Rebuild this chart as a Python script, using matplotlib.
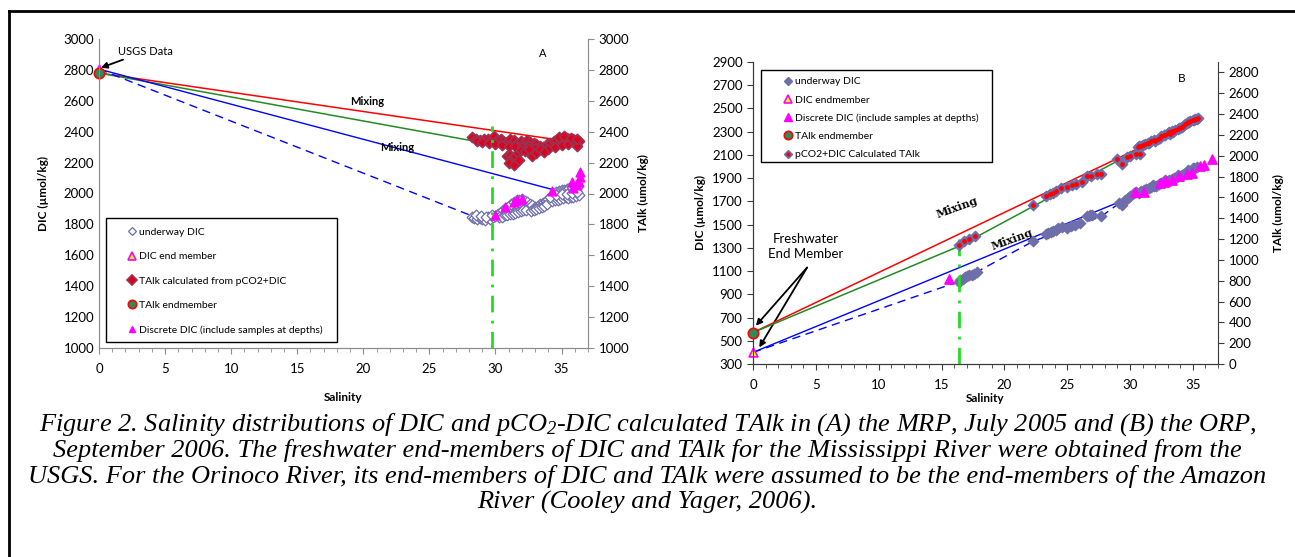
import numpy as np
import matplotlib
matplotlib.use('Agg')
import matplotlib.pyplot as plt
from matplotlib.lines import Line2D
from matplotlib.patches import Rectangle

plt.rcParams['font.family'] = ['Lato', 'DejaVu Sans']
plt.rcParams['mathtext.fontset'] = 'custom'
plt.rcParams['mathtext.rm'] = 'Liberation Serif:italic'
plt.rcParams['mathtext.it'] = 'Liberation Serif:italic'

# ---------------- panel A (MRP, July 2005) ----------------
a_end_sal = [0.0]
a_dic_end = [2805]
a_talk_end = [2780]

a_uw_sal = [28.2, 28.4, 28.6, 28.8, 29.0, 29.2, 29.4, 29.6, 29.8, 30.0, 28.5, 28.9, 29.3, 29.7,
            30.2, 30.4, 30.6, 30.8, 31.0, 31.2, 31.4, 31.6, 31.8, 32.0, 32.2, 32.4,
            30.3, 30.5, 30.7, 30.9, 31.1, 31.3, 31.5, 31.7, 31.9, 32.1, 32.3,
            32.6, 32.8, 33.0, 33.2, 33.4, 33.6, 33.8, 34.0, 32.7, 32.9, 33.1, 33.3, 33.5, 33.7, 33.9,
            34.2, 34.4, 34.6, 34.8, 35.0, 35.2, 35.4, 35.6, 35.8, 36.0, 36.2,
            34.3, 34.5, 34.7, 34.9, 35.1, 35.3, 35.5, 35.7, 35.9, 36.1, 36.3,
            34.1, 34.6, 35.0, 35.4, 35.8, 36.2]
a_uw_dic = [1845, 1840, 1835, 1842, 1838, 1830, 1845, 1836, 1850, 1855, 1860, 1852, 1848, 1858,
            1870, 1880, 1895, 1905, 1920, 1935, 1945, 1955, 1960, 1965, 1950, 1945,
            1845, 1850, 1860, 1858, 1865, 1870, 1875, 1880, 1885, 1890, 1895,
            1935, 1925, 1915, 1920, 1930, 1940, 1950, 1965, 1885, 1890, 1900, 1905, 1910, 1920, 1930,
            1985, 2000, 2010, 2015, 2020, 2025, 2030, 2035, 2040, 2045, 2040,
            1950, 1955, 1960, 1965, 1970, 1975, 1970, 1975, 1980, 1985, 1990,
            1975, 1990, 1995, 2000, 2005, 2010]

a_talk_sal = [28.2, 28.5, 28.8, 29.1, 29.4, 29.6, 29.9, 30.1, 30.4, 30.6, 30.9, 31.1, 31.4, 31.6,
              31.9, 32.1, 32.4, 32.6, 32.9, 33.1, 33.4, 33.6, 33.9, 34.1, 34.4, 34.6, 34.9,
              35.1, 35.4, 35.6, 35.9, 36.1, 36.3,
              28.6, 29.0, 29.5, 30.0, 30.5, 31.0, 31.5, 32.0, 32.5, 33.0, 33.5, 34.0, 34.5,
              35.0, 35.5, 36.0, 36.2, 34.8, 35.2, 35.7, 36.2,
              30.9, 31.1, 31.3, 31.5, 31.7, 31.9, 32.2, 32.5, 31.0, 31.4, 31.8, 32.8, 33.1, 33.4, 33.7]
a_talk = [2365, 2350, 2345, 2355, 2350, 2340, 2375, 2345, 2350, 2340, 2335, 2355, 2345, 2330,
          2340, 2325, 2345, 2335, 2330, 2320, 2305, 2300, 2320, 2330, 2340, 2345, 2350,
          2355, 2360, 2350, 2355, 2345, 2340,
          2340, 2335, 2330, 2320, 2315, 2310, 2305, 2300, 2310, 2295, 2285, 2290, 2300,
          2315, 2320, 2325, 2310, 2365, 2370, 2360, 2355,
          2240, 2250, 2235, 2245, 2260, 2280, 2275, 2290, 2200, 2185, 2215, 2240, 2265, 2285, 2270]

a_disc_sal = [30.0, 30.7, 31.4, 31.6, 32.0, 34.3, 35.8, 35.9, 36.4, 36.4, 36.3, 36.2]
a_disc_dic = [1861, 1915, 1947, 1958, 1962, 2018, 2076, 2033, 2140, 2108, 2076, 2055]

# mixing lines A
a_red_sal = [0.0, 34.9]
a_red_val = [2780, 2345]
a_green_sal = [0.0, 29.75]
a_green_val = [2780, 2318]
a_blue_sal = [0.0, 34.7]
a_blue_val = [2805, 2017]
a_bdash_sal = [0.0, 28.4, 29.8]
a_bdash_val = [2805, 1849, 1840]
a_vline_sal = 29.75
a_vline_top = 2440

# ---------------- panel B (ORP, September 2006) ----------------
b_dic_end = [400]       # left axis (DIC)
b_talk_end = [302]      # right axis (TAlk)

b_uw_sal = [16.4, 16.5, 16.7, 16.9, 17.0, 17.2, 17.4, 17.6, 17.8,
            22.3, 23.3, 23.5, 23.7, 23.9, 24.1, 24.3, 24.6, 25.0, 25.3, 25.6, 26.0,
            26.6, 26.8, 27.0, 27.7, 29.1, 29.4, 29.6, 29.8, 30.0,
            30.3, 30.5, 30.7, 30.9, 31.1, 31.3, 31.5, 31.7, 31.9, 32.1, 32.3, 32.5, 32.7,
            32.9, 33.1, 33.3, 33.5, 33.7, 33.9, 34.1, 34.3, 34.5, 34.7, 34.9, 35.1, 35.3,
            35.0, 34.6, 33.8, 32.8, 31.8]
b_uw_dic = [1010, 1025, 1035, 1050, 1055, 1062, 1070, 1078, 1090,
            1357, 1415, 1430, 1440, 1445, 1455, 1470, 1480, 1470, 1487, 1500, 1510,
            1570, 1585, 1587, 1570, 1690, 1665, 1710, 1730, 1750,
            1770, 1780, 1775, 1790, 1800, 1805, 1815, 1820, 1830, 1835, 1850, 1855, 1865,
            1875, 1880, 1890, 1900, 1910, 1915, 1925, 1935, 1945, 1955, 1965, 1985, 2000,
            1990, 1970, 1930, 1880, 1840]

b_talk_sal = [16.36, 16.76, 17.16, 17.69, 22.3, 23.3, 23.6, 23.9, 24.1, 24.5,
              25.0, 25.4, 25.7, 26.2, 26.6, 26.9, 27.4, 27.7, 28.96, 29.35, 29.75, 30.0,
              30.5, 30.8,
              30.6, 30.7, 30.9, 31.0, 31.2, 31.4, 31.5, 31.7, 31.9, 32.0, 32.2, 32.4, 32.5,
              32.7, 32.8, 33.0, 33.1, 33.3, 33.4, 33.6, 33.8, 33.9, 34.1, 34.2, 34.4, 34.5,
              34.7, 34.8, 35.0, 35.1, 35.3, 35.4, 33.2, 34.0, 34.6, 35.2]
b_talk = [1138, 1179, 1196, 1227, 1531, 1612, 1628, 1645, 1662, 1692,
          1702, 1718, 1733, 1749, 1804, 1810, 1829, 1829, 1964, 1925, 1990, 1995,
          2019, 2019,
          2080, 2095, 2090, 2105, 2110, 2125, 2120, 2140, 2150, 2145, 2165, 2175, 2190,
          2200, 2195, 2215, 2225, 2235, 2230, 2250, 2260, 2270, 2280, 2290, 2300, 2310,
          2320, 2330, 2340, 2345, 2355, 2360, 2210, 2265, 2325, 2350]

b_disc_sal = [15.6, 30.4, 31.1, 32.4, 32.7, 32.9, 33.3, 33.9, 34.5, 34.9, 35.6, 35.9, 36.5]
b_disc_dic = [1036, 1783, 1780, 1860, 1865, 1874, 1888, 1922, 1940, 1946, 2003, 2009, 2061]

# mixing lines B
b_red_sal = [0.0, 30.7]
b_red_val = [302, 2072]           # right axis
b_green_sal = [0.0, 16.4, 30.7]
b_green_val = [302, 1131, 2060]   # right axis
b_blue_sal = [0.0, 30.6]
b_blue_val = [400, 1760]          # left axis
b_bdash_sal = [0.0, 16.4, 22.3, 27.7, 30.3]
b_bdash_val = [400, 1010, 1357, 1570, 1774]
b_vline_sal = 16.4
b_vline_top = 1414

caption = [
    r"Figure 2. Salinity distributions of DIC and pCO$_2$-DIC calculated TAlk in (A) the MRP, July 2005 and (B) the ORP,",
    "September 2006. The freshwater end-members of DIC and TAlk for the Mississippi River were obtained from the",
    "USGS. For the Orinoco River, its end-members of DIC and TAlk were assumed to be the end-members of the Amazon",
    "River (Cooley and Yager, 2006).",
]

SLATE = '#6E6EAA'
TK = 9.5

fig = plt.figure(figsize=(12.95, 5.57), dpi=100)
W, H = 1295.0, 557.0


def px_axes(l, r, t, b):
    return fig.add_axes([l / W, 1 - b / H, (r - l) / W, (b - t) / H])


def style(ax, ax2, col, left_ticks):
    for s in ['top']:
        ax.spines[s].set_visible(False)
        ax2.spines[s].set_visible(False)
    for s in ['left', 'bottom', 'right']:
        ax.spines[s].set_color(col)
        ax2.spines[s].set_color(col)
    ax.spines['right'].set_visible(False)
    ax.tick_params(axis='x', which='major', direction='out', length=4, color=col, labelsize=TK, pad=7)
    ax.tick_params(axis='x', which='minor', direction='out', length=3, color=col)
    ax.tick_params(axis='y', direction='out', length=4 if left_ticks else 0, color=col, labelsize=TK)
    ax2.tick_params(axis='y', direction='out', length=4, color=col, labelsize=TK)
    ax.set_xlim(0, 37)
    ax.set_xticks(np.arange(0, 36, 5))
    ax.set_xticks(np.arange(0, 38, 1), minor=True)


def leg_box(ax, x0, y0, x1, y1):
    r = Rectangle((x0, y0), x1 - x0, y1 - y0, transform=ax.transAxes, facecolor='white',
                  edgecolor='black', lw=1.0, zorder=8, clip_on=False)
    ax.add_patch(r)


# ---------------- Panel A ----------------
ax = px_axes(99, 588, 39, 348)
ax2 = ax.twinx()
style(ax, ax2, '#8C8C8C', False)
ax.set_ylim(1000, 3000)
ax2.set_ylim(1000, 3000)
ax.set_yticks(np.arange(1000, 3001, 200))
ax2.set_yticks(np.arange(1000, 3001, 200))

ax.plot(a_red_sal, a_red_val, color='red', lw=1.1, zorder=3)
ax.plot(a_green_sal, a_green_val, color='#228B22', lw=1.1, zorder=3)
ax.plot(a_blue_sal, a_blue_val, color='blue', lw=1.0, zorder=3)
ax.plot(a_bdash_sal, a_bdash_val, color='blue', lw=1.0, ls=(0, (6, 4)), zorder=3)
ax.plot([a_vline_sal, a_vline_sal], [1000, a_vline_top], color='#22DD22', lw=2, ls=(0, (6, 3, 1, 3)), zorder=6)

ax.scatter(a_uw_sal, a_uw_dic, marker='D', s=30, facecolor='white', edgecolor=SLATE, lw=0.9, zorder=4)
ax.scatter(a_talk_sal, a_talk, marker='D', s=26, facecolor='#E0001B', edgecolor='#A0304F', lw=1.3, zorder=4)
ax.scatter(a_disc_sal, a_disc_dic, marker='^', s=40, color='magenta', zorder=5)
ax.scatter(a_end_sal, a_dic_end, marker='^', s=40, facecolor='yellow', edgecolor='magenta', lw=1.2, zorder=6, clip_on=False)
ax.scatter(a_end_sal, a_talk_end, marker='o', s=55, facecolor='#2E8B57', edgecolor='red', lw=1.2, zorder=7, clip_on=False)

ax.annotate('USGS Data', xy=(0.15, 2814), xytext=(1.45, 2920), fontsize=8, va='center',
            arrowprops=dict(arrowstyle='-|>', color='black', lw=1.3, mutation_scale=9, shrinkA=0, shrinkB=0))
ax.text(20.3, 2594, 'Mixing', fontsize=8, fontweight='bold', ha='center', va='center')
ax.text(22.6, 2300, 'Mixing', fontsize=8, fontweight='bold', ha='center', va='center')
ax.text(33.6, 2905, 'A', fontsize=8, ha='center', va='center')
ax.set_xlabel('Salinity', fontsize=8.5, fontweight='bold', labelpad=12)
ax.set_ylabel('DIC (µmol/kg)', fontsize=8.5, fontweight='bold', labelpad=10)
ax2.set_ylabel('TAlk (umol/kg)', fontsize=8.5, fontweight='bold', labelpad=6)

leg_box(ax, 0.014, 0.019, 0.486, 0.42)
ha = [Line2D([], [], ls='none', marker='D', ms=4.5, mfc='white', mec=SLATE, mew=0.9),
      Line2D([], [], ls='none', marker='^', ms=6, mfc='yellow', mec='magenta', mew=1.2),
      Line2D([], [], ls='none', marker='D', ms=5, mfc='#E0001B', mec='#A0304F', mew=1.2),
      Line2D([], [], ls='none', marker='o', ms=6, mfc='#2E8B57', mec='red', mew=1.2),
      Line2D([], [], ls='none', marker='^', ms=5, color='magenta')]
la = ['underway DIC', 'DIC end member', 'TAlk calculated from pCO2+DIC', 'TAlk endmember',
      'Discrete DIC (include samples at depths)']
lg = ax.legend(ha, la, loc='upper left', bbox_to_anchor=(0.059, 0.39), frameon=False, fontsize=7.5,
               handlelength=0.8, handletextpad=0.3, labelspacing=1.45, borderpad=0, borderaxespad=0)
lg.set_zorder(9)

# ---------------- Panel B ----------------
bx = px_axes(753, 1218, 62, 364)
bx2 = bx.twinx()
style(bx, bx2, '#3A3A3A', True)
bx.set_ylim(300, 2900)
bx2.set_ylim(0, 2900)
bx.set_yticks(np.arange(300, 2901, 200))
bx2.set_yticks(np.arange(0, 2801, 200))

bx2.plot(b_red_sal, b_red_val, color='red', lw=1.1, zorder=3)
bx2.plot(b_green_sal, b_green_val, color='#228B22', lw=1.1, zorder=3)
bx.plot(b_blue_sal, b_blue_val, color='blue', lw=1.0, zorder=3)
bx.plot(b_bdash_sal, b_bdash_val, color='blue', lw=1.0, ls=(0, (6, 4)), zorder=3)
bx.plot([b_vline_sal, b_vline_sal], [300, b_vline_top], color='#22DD22', lw=2, ls=(0, (6, 3, 1, 3)), zorder=6)

bx.scatter(b_uw_sal, b_uw_dic, marker='D', s=28, color=SLATE, zorder=4)
bx.scatter(b_disc_sal, b_disc_dic, marker='^', s=45, color='magenta', zorder=5)
bx2.scatter(b_talk_sal, b_talk, marker='D', s=28, color=SLATE, zorder=4)
bx2.scatter(b_talk_sal, b_talk, marker='o', s=6, color='red', zorder=5)
bx.scatter([0.0], b_dic_end, marker='^', s=40, facecolor='yellow', edgecolor='magenta', lw=1.2, zorder=6, clip_on=False)
bx2.scatter([0.0], b_talk_end, marker='o', s=55, facecolor='#2E8B57', edgecolor='red', lw=1.2, zorder=7, clip_on=False)

bx.text(4.2, 1310, 'Freshwater\nEnd Member', fontsize=9.5, ha='center', va='center', linespacing=1.35)
for tgt in [(0.23, 630), (0.5, 443)]:
    bx.annotate('', xy=tgt, xytext=(4.3, 1130),
                arrowprops=dict(arrowstyle='-|>', color='black', lw=1.3, mutation_scale=9, shrinkA=0, shrinkB=0))
bx.text(16.2, 1650, 'Mixing', fontsize=8, fontweight='bold', family='DejaVu Serif', rotation=20,
        ha='center', va='center')
bx.text(20.6, 1370, 'Mixing', fontsize=8, fontweight='bold', family='DejaVu Serif', rotation=20,
        ha='center', va='center')
bx.text(34.1, 2757, 'B', fontsize=8.5, ha='center', va='center')
bx.set_xlabel('Salinity', fontsize=8.5, fontweight='bold', labelpad=1)
bx.set_ylabel('DIC (µmol/kg)', fontsize=8.5, fontweight='bold', labelpad=4)
bx2.set_ylabel('TAlk (umol/kg)', fontsize=8.5, fontweight='bold', labelpad=10)

leg_box(bx, 0.018, 0.67, 0.514, 0.972)
hb = [Line2D([], [], ls='none', marker='D', ms=4, color=SLATE),
      Line2D([], [], ls='none', marker='^', ms=6, mfc='yellow', mec='magenta', mew=1.2),
      Line2D([], [], ls='none', marker='^', ms=6, color='magenta'),
      Line2D([], [], ls='none', marker='o', ms=6, mfc='#2E8B57', mec='red', mew=1.2),
      (Line2D([], [], ls='none', marker='D', ms=4, color=SLATE),
       Line2D([], [], ls='none', marker='o', ms=2, color='red'))]
lb = ['underway DIC', 'DIC endmember', 'Discrete DIC (include samples at depths)', 'TAlk endmember',
      'pCO2+DIC Calculated TAlk']
lg2 = bx.legend(hb, lb, loc='upper left', bbox_to_anchor=(0.066, 0.95), frameon=False, fontsize=7.5,
                handlelength=0.8, handletextpad=0.3, labelspacing=0.85, borderpad=0, borderaxespad=0)
lg2.set_zorder(9)

# caption
for i, line in enumerate(caption):
    fig.text(647.5 / W, 1 - (425 + 25.8 * i) / H, line, ha='center', va='center', fontsize=19,
             family='Liberation Serif', style='italic')

# frame
fig.add_artist(Line2D([9 / W, 9 / W], [0, 1 - 11 / H], color='black', lw=2))
fig.add_artist(Line2D([9 / W, 1], [1 - 11 / H, 1 - 11 / H], color='black', lw=2))

fig.savefig('out.png', dpi=100)
